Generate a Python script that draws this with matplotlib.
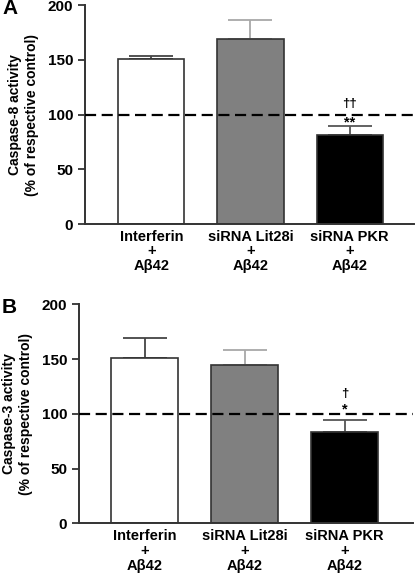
import matplotlib
matplotlib.use('Agg')
import matplotlib.pyplot as plt

plt.rcParams['font.family'] = ['Liberation Sans', 'DejaVu Sans']
plt.rcParams['font.weight'] = 'bold'
plt.rcParams['axes.labelweight'] = 'bold'

groups = ['Interferin\n+\nAβ42', 'siRNA Lit28i\n+\nAβ42', 'siRNA PKR\n+\nAβ42']
colors = ['white', '#808080', 'black']
err_colors = ['#444444', '#a8a8a8', '#555555']

casp8_mean = [151, 169, 81]
casp8_err = [3, 17, 9]
casp8_marks = ['', '', '**']
casp8_marks2 = ['', '', '††']

casp3_mean = [151.5, 145, 83]
casp3_err = [17.5, 13, 11]
casp3_marks = ['', '', '*']
casp3_marks2 = ['', '', '†']

yticks = [0, 50, 100, 150, 200]

fig = plt.figure(figsize=(4.16, 5.73), dpi=100)

panels = [
    ('A', 'Caspase-8 activity\n(% of respective control)', casp8_mean, casp8_err,
     casp8_marks, casp8_marks2, [0.204, 0.609, 0.791, 0.382], (-0.672, 2.65), (93, 110)),
    ('B', 'Caspase-3 activity\n(% of respective control)', casp3_mean, casp3_err,
     casp3_marks, casp3_marks2, [0.190, 0.0867, 0.803, 0.382], (-0.655, 2.685), (104, 118)),
]

for letter, ylabel, mean, err, m1, m2, rect, xlim, ann_y in panels:
    ax = fig.add_axes(rect)
    x = list(range(len(mean)))
    ax.bar(x, mean, width=0.667, color=colors, edgecolor='#333333', linewidth=1.2, zorder=2)
    for xi, mi, ei, ec in zip(x, mean, err, err_colors):
        ax.errorbar(xi, mi, yerr=[[0], [ei]], fmt='none', ecolor=ec,
                    elinewidth=1.3, capsize=16, capthick=1.3, zorder=1)
    ax.axhline(100, color='black', linestyle=(0, (5, 2.5)), linewidth=1.6, zorder=3)
    for xi, a, b in zip(x, m1, m2):
        if a:
            ax.text(xi, ann_y[0], a, ha='center', va='center', fontsize=10.5, fontweight='bold')
        if b:
            ax.text(xi, ann_y[1], b, ha='center', va='center', fontsize=9.5)
    ax.set_xlim(*xlim)
    ax.set_ylim(0, 200)
    ax.set_yticks(yticks)
    ax.set_yticklabels([str(t) for t in yticks], fontsize=11, fontweight='bold')
    ax.set_xticks(x)
    ax.set_xticklabels(groups, fontsize=10.5, fontweight='bold', linespacing=1.08)
    ax.tick_params(axis='x', length=0, pad=4)
    ax.tick_params(axis='y', length=5, width=1.3, color='#333333')
    ax.set_ylabel(ylabel, fontsize=10, fontweight='bold', linespacing=1.3, labelpad=6)
    for s in ['top', 'right']:
        ax.spines[s].set_visible(False)
    for s in ['left', 'bottom']:
        ax.spines[s].set_linewidth(1.4)
        ax.spines[s].set_color('#333333')
    fig.text(0.005, rect[1] + rect[3] - 0.005, letter, fontsize=15, fontweight='bold', va='center')

fig.savefig('out.png', dpi=100)
